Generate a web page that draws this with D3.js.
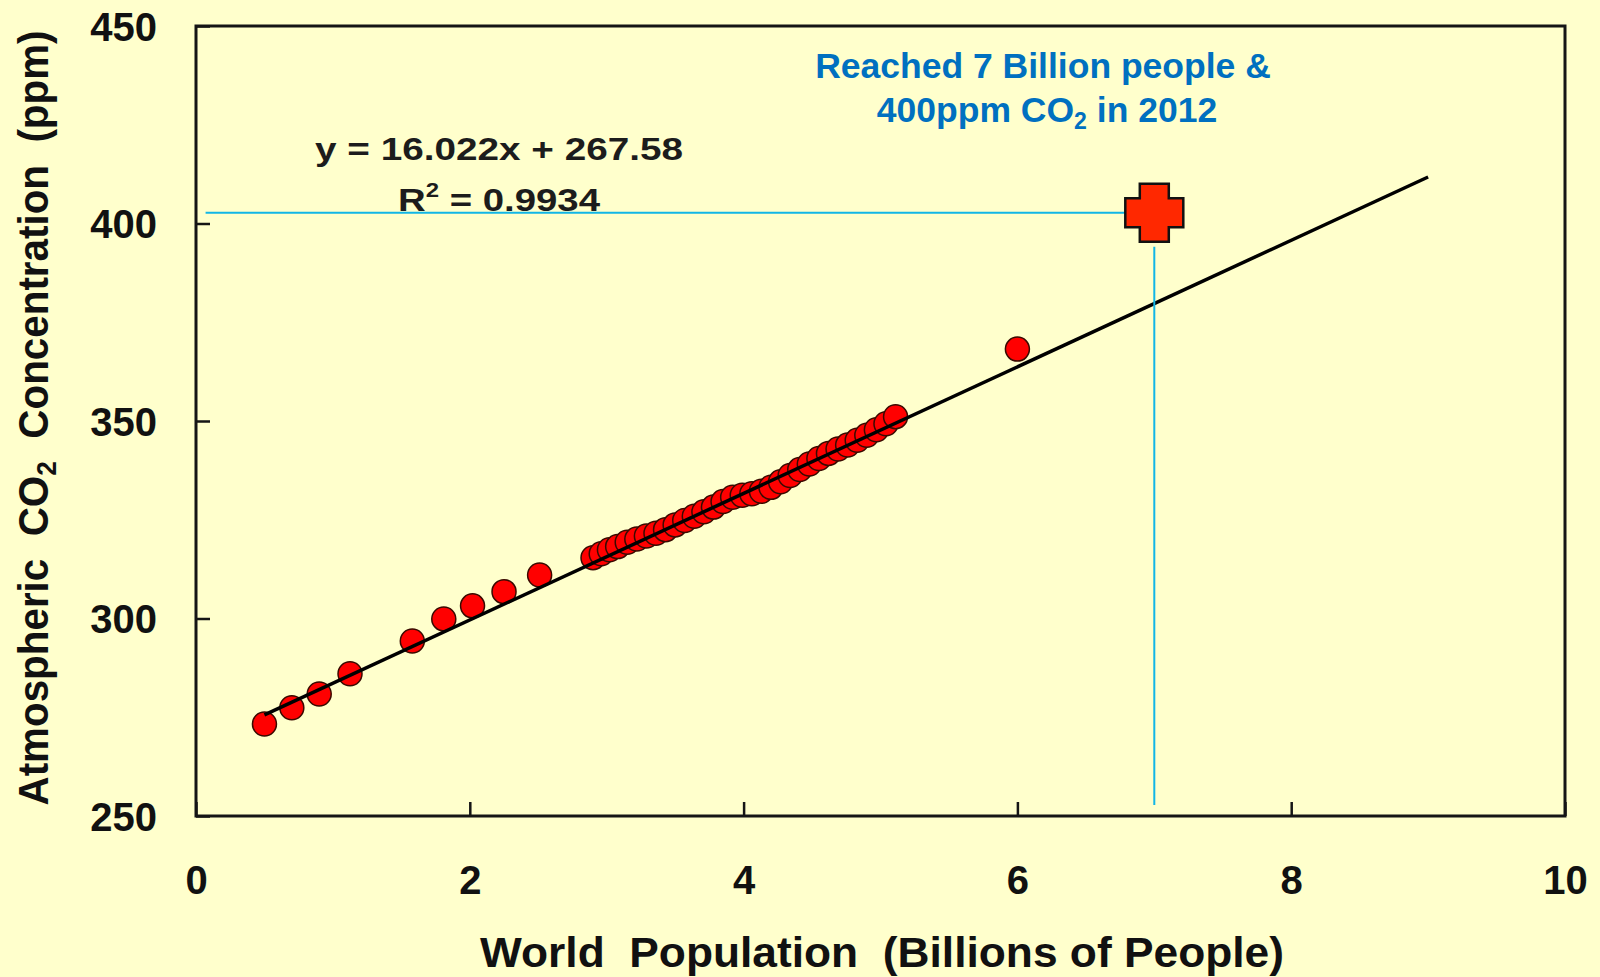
<!DOCTYPE html>
<html>
<head>
<meta charset="utf-8">
<script src="https://cdn.jsdelivr.net/npm/d3@7"></script>
<style>
  html, body { margin: 0; padding: 0; background: #FFFFCC; }
  svg { display: block; }
  text { font-family: "Liberation Sans", Arial, Helvetica, sans-serif; }
</style>
</head>
<body>
<svg id="chart" width="1600" height="977"></svg>
<script>
// ---------- data ----------
const population = [0.50, 0.70, 0.90, 1.125, 1.58, 1.81, 2.02, 2.25, 2.51,
  2.90, 2.96, 3.02, 3.08, 3.15, 3.22, 3.29, 3.36, 3.43, 3.50, 3.57, 3.64, 3.71,
  3.78, 3.85, 3.92, 3.99, 4.06, 4.13, 4.20, 4.27, 4.34, 4.41, 4.48, 4.55, 4.62,
  4.69, 4.76, 4.83, 4.90, 4.97, 5.04, 5.11, 6.00];
const co2ppm = [273.3, 277.4, 280.9, 286.0, 294.3, 299.9, 303.2, 306.8, 311.0,
  315.4, 316.4, 317.4, 318.2, 319.3, 320.1, 320.9, 321.6, 322.5, 323.7, 324.8, 325.9, 327.0,
  328.2, 329.6, 330.7, 331.2, 331.6, 332.2, 333.2, 334.6, 336.2, 337.7, 339.1, 340.5, 341.8,
  342.9, 343.9, 345.1, 346.4, 347.8, 349.3, 351.1, 368.2];
const fitSlope = 16.022;
const fitIntercept = 267.58;
const fitRange = [0.5, 9.0];
const milestonePop = 7;
const milestoneCO2 = 402.7;
const guideStartPop = 0.07;
const guideEndCO2 = 252.8;
const xTicks = [0, 2, 4, 6, 8, 10];
const yTicks = [250, 300, 350, 400, 450];
const xTitle = "World\u00A0\u00A0Population\u00A0\u00A0(Billions of People)";
const eqText = "y = 16.022x + 267.58";
const r2Value = "0.9934";

// ---------- layout ----------
const svg = d3.select("#chart");
const L = 196, R = 1565, T = 26, B = 816;
const x = d3.scaleLinear().domain([0, 10]).range([L, R]);
const y = d3.scaleLinear().domain([250, 450]).range([B, T]);

svg.append("rect").attr("width", 1600).attr("height", 977).attr("fill", "#FFFFCC");

// points
svg.append("g").selectAll("circle")
  .data(population.map((p, i) => [p, co2ppm[i]]))
  .join("circle")
  .attr("cx", d => x(d[0]))
  .attr("cy", d => y(d[1]))
  .attr("r", 12)
  .attr("fill", "#FF0000")
  .attr("stroke", "#3a0a00")
  .attr("stroke-width", 1.5);

// regression line
svg.append("path")
  .datum(fitRange.map(v => [v, fitSlope * v + fitIntercept]))
  .attr("d", d3.line().x(d => x(d[0])).y(d => y(d[1])))
  .attr("stroke", "#000").attr("stroke-width", 3.5).attr("fill", "none");

// guide lines
const cx = x(milestonePop), cy = y(milestoneCO2);
svg.append("line")
  .attr("x1", x(guideStartPop)).attr("x2", cx)
  .attr("y1", cy).attr("y2", cy)
  .attr("stroke", "#12B6E6").attr("stroke-width", 2);
svg.append("line")
  .attr("x1", cx).attr("x2", cx)
  .attr("y1", cy + 34).attr("y2", y(guideEndCO2))
  .attr("stroke", "#12B6E6").attr("stroke-width", 2);

// cross marker
const h = 29, a = 14.5;
const cp = d3.path();
cp.moveTo(cx - a, cy - h); cp.lineTo(cx + a, cy - h); cp.lineTo(cx + a, cy - a);
cp.lineTo(cx + h, cy - a); cp.lineTo(cx + h, cy + a); cp.lineTo(cx + a, cy + a);
cp.lineTo(cx + a, cy + h); cp.lineTo(cx - a, cy + h); cp.lineTo(cx - a, cy + a);
cp.lineTo(cx - h, cy + a); cp.lineTo(cx - h, cy - a); cp.lineTo(cx - a, cy - a);
cp.closePath();
svg.append("path").attr("d", cp.toString())
  .attr("fill", "#FF2800").attr("stroke", "#111").attr("stroke-width", 2.5);

// frame
svg.append("rect").attr("x", L).attr("y", T).attr("width", R - L).attr("height", B - T)
  .attr("fill", "none").attr("stroke", "#151515").attr("stroke-width", 3);

// axes (inward ticks)
const xAxis = d3.axisBottom(x).tickValues(xTicks).tickSizeInner(-14).tickSizeOuter(0).tickPadding(0);
const gx = svg.append("g").attr("transform", `translate(0,${B})`).call(xAxis);
gx.select(".domain").remove();
gx.selectAll(".tick line").attr("stroke", "#151515").attr("stroke-width", 2.5);
gx.selectAll(".tick text").attr("y", 78).attr("dy", 0)
  .attr("font-size", 40).attr("font-weight", "bold").attr("fill", "#111")
  .attr("font-family", "Liberation Sans, Arial, sans-serif");

const yAxis = d3.axisLeft(y).tickValues(yTicks).tickSizeInner(-14).tickSizeOuter(0).tickPadding(0);
const gy = svg.append("g").attr("transform", `translate(${L},0)`).call(yAxis);
gy.select(".domain").remove();
gy.selectAll(".tick line").attr("stroke", "#151515").attr("stroke-width", 2.5);
gy.selectAll(".tick text").attr("x", -39).attr("dy", "0.36em")
  .attr("font-size", 40).attr("font-weight", "bold").attr("fill", "#111")
  .attr("font-family", "Liberation Sans, Arial, sans-serif");

// axis titles
svg.append("text")
  .attr("x", 882).attr("y", 967).attr("text-anchor", "middle")
  .attr("font-size", 42).attr("font-weight", "bold").attr("fill", "#111")
  .attr("textLength", 804).attr("lengthAdjust", "spacingAndGlyphs")
  .text(xTitle);

const yt = svg.append("text")
  .attr("transform", "translate(48,418) rotate(-90)")
  .attr("text-anchor", "middle")
  .attr("font-size", 43).attr("font-weight", "bold").attr("fill", "#111")
  .attr("textLength", 775).attr("lengthAdjust", "spacingAndGlyphs");
yt.append("tspan").text("Atmospheric\u00A0\u00A0CO");
yt.append("tspan").attr("font-size", 28).attr("dy", 8).text("2");
yt.append("tspan").attr("dy", -8).text("\u00A0\u00A0Concentration\u00A0\u00A0(ppm)");

// equation
svg.append("text")
  .attr("x", 499).attr("y", 160).attr("text-anchor", "middle")
  .attr("font-size", 32).attr("font-weight", "bold").attr("fill", "#1c1c1c")
  .attr("textLength", 368).attr("lengthAdjust", "spacingAndGlyphs")
  .text(eqText);
const r2 = svg.append("text")
  .attr("x", 499).attr("y", 211).attr("text-anchor", "middle")
  .attr("font-size", 32).attr("font-weight", "bold").attr("fill", "#1c1c1c")
  .attr("textLength", 202).attr("lengthAdjust", "spacingAndGlyphs");
r2.append("tspan").text("R");
r2.append("tspan").attr("font-size", 20).attr("dy", -14).text("2");
r2.append("tspan").attr("dy", 14).text(" = " + r2Value);

// annotation
svg.append("text")
  .attr("x", 1043).attr("y", 78).attr("text-anchor", "middle")
  .attr("font-size", 35.5).attr("font-weight", "bold").attr("fill", "#0070C0")
  .text("Reached 7 Billion people &");
const an2 = svg.append("text")
  .attr("x", 1047).attr("y", 122).attr("text-anchor", "middle")
  .attr("font-size", 35.5).attr("font-weight", "bold").attr("fill", "#0070C0");
an2.append("tspan").text("400ppm CO");
an2.append("tspan").attr("font-size", 23).attr("dy", 7).text("2");
an2.append("tspan").attr("dy", -7).text(" in 2012");
</script>
</body>
</html>
